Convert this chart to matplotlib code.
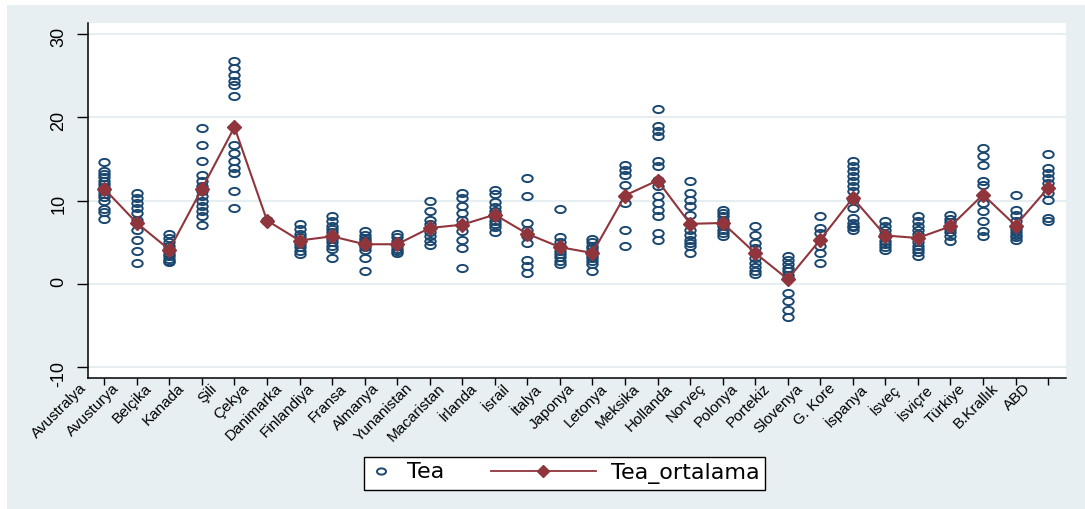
import matplotlib.pyplot as plt
from matplotlib.lines import Line2D
from matplotlib.legend_handler import HandlerLine2D
from matplotlib.markers import MarkerStyle
from matplotlib.patches import Rectangle
from matplotlib.path import Path
from matplotlib.transforms import Affine2D, ScaledTranslation

plt.rcParams['font.family'] = ['Liberation Sans', 'DejaVu Sans']
plt.rcParams['axes.unicode_minus'] = False

countries = ['Avustralya', 'Avusturya', 'Belçika', 'Kanada', 'Şili', 'Çekya',
             'Danimarka', 'Finlandiya', 'Fransa', 'Almanya', 'Yunanistan',
             'Macaristan', 'İrlanda', 'İsrail', 'İtalya', 'Japonya', 'Letonya',
             'Meksika', 'Hollanda', 'Norveç', 'Polonya', 'Portekiz', 'Slovenya',
             'G. Kore', 'İspanya', 'İsveç', 'İsviçre', 'Türkiye', 'B.Krallık', 'ABD']

# yearly Tea values per country
avustralya = [14.6, 13.6, 13.2, 12.8, 12.4, 12.0, 11.6, 11.2, 10.8, 10.4, 10.0, 9.0, 8.6, 7.8]
avusturya = [10.9, 10.3, 9.7, 9.1, 8.5, 7.7, 6.5, 5.3, 3.9, 2.5]
belcika = [6.0, 5.5, 5.0, 4.6, 4.2, 3.9, 3.6, 3.3, 3.0, 2.8, 2.6]
kanada = [18.7, 16.7, 14.7, 13.1, 12.3, 11.7, 11.1, 10.5, 9.9, 9.3, 8.7, 8.1, 7.1]
sili = [26.7, 25.9, 25.1, 24.3, 23.9, 22.5, 16.7, 15.7, 14.7, 13.9, 13.3, 11.1, 9.1]
cekya = [7.5, 7.7]
danimarka = [7.2, 6.6, 6.0, 5.6, 5.2, 4.8, 4.4, 4.0, 3.6]
finlandiya = [8.2, 7.6, 7.0, 6.6, 6.2, 5.8, 5.4, 5.0, 4.6, 4.2, 3.1]
fransa = [6.3, 5.9, 5.5, 5.3, 5.0, 4.7, 4.4, 4.1, 3.1, 1.5]
almanya = [6.0, 5.6, 5.2, 4.8, 4.5, 4.2, 3.9, 3.7]
yunanistan = [9.9, 8.8, 7.7, 7.2, 6.7, 6.2, 5.7, 5.2, 4.7]
macaristan = [10.9, 10.3, 9.3, 8.5, 7.7, 7.1, 6.3, 5.3, 4.3, 1.9]
irlanda = [11.3, 10.8, 9.8, 9.2, 8.8, 8.4, 8.0, 7.6, 7.2, 6.8, 6.2]
israil = [12.7, 10.5, 7.3, 6.5, 5.7, 4.9, 2.9, 2.1, 1.3]
italya = [9.0, 5.6, 5.0, 4.5, 4.0, 3.6, 3.2, 2.8, 2.4]
japonya = [5.4, 5.0, 4.6, 4.3, 4.0, 3.7, 3.4, 3.1, 2.8, 2.4, 1.6]
letonya = [14.3, 13.7, 13.1, 11.9, 9.7, 6.5, 4.5]
meksika = [21.0, 19.0, 18.3, 17.7, 14.7, 14.1, 12.5, 11.7, 10.5, 9.7, 8.9, 8.1, 6.1, 5.3]
hollanda = [12.3, 10.9, 10.1, 9.3, 8.3, 6.5, 5.9, 5.3, 4.9, 4.5, 3.7]
norvec = [8.9, 8.5, 8.1, 7.7, 7.3, 6.9, 6.5, 6.1, 5.7]
polonya = [6.9, 5.9, 4.9, 4.3, 3.7, 3.1, 2.5, 2.0, 1.6, 1.2]
portekiz = [3.4, 2.9, 2.4, 1.9, 1.5, 1.1, 0.7, -1.1, -2.1, -3.1, -4.0]
slovenya = [8.1, 6.7, 6.1, 5.3, 4.5, 3.7, 2.5]
g_kore = [14.7, 14.1, 13.5, 12.9, 12.3, 11.7, 11.1, 10.1, 9.1, 7.9, 7.3, 7.0, 6.8, 6.5]
ispanya = [7.5, 7.0, 6.5, 6.0, 5.6, 5.2, 4.8, 4.4, 4.1]
isvec = [8.1, 7.6, 7.0, 6.5, 6.0, 5.5, 5.0, 4.6, 4.2, 3.8, 3.4]
isvicre = [8.3, 7.8, 7.4, 7.0, 6.6, 6.2, 5.8, 5.1]
turkiye = [16.3, 15.3, 14.3, 12.3, 11.9, 10.7, 9.7, 8.7, 7.5, 6.3, 5.7]
b_krallik = [10.7, 8.9, 8.3, 7.6, 7.0, 6.6, 6.2, 5.9, 5.6, 5.3]
abd = [15.6, 13.9, 13.3, 12.7, 12.1, 11.5, 10.9, 10.1, 7.9, 7.5]

tea = [avustralya, avusturya, belcika, kanada, sili, cekya, danimarka,
       finlandiya, fransa, almanya, yunanistan, macaristan, irlanda, israil,
       italya, japonya, letonya, meksika, hollanda, norvec, polonya, portekiz,
       slovenya, g_kore, ispanya, isvec, isvicre, turkiye, b_krallik, abd]

tea_ortalama = [11.4, 7.3, 4.1, 11.4, 18.8, 7.6, 5.2, 5.7, 4.75, 4.75, 6.7,
                7.1, 8.3, 6.0, 4.4, 3.7, 10.6, 12.4, 7.2, 7.3, 3.7, 0.56, 5.3,
                10.3, 5.8, 5.5, 6.9, 10.7, 7.0, 11.5]

navy = '#1a476f'
maroon = '#90353b'
bg = '#e8eff2'
grid = '#e6eef1'

# wide hollow ring used for the yearly values
ring = MarkerStyle(Path.unit_circle().transformed(Affine2D().scale(1.45, 1.0)))

W, H = 1085, 509
fig = plt.figure(figsize=(W / 100, H / 100), dpi=100)
fig.patch.set_facecolor('white')
fig.add_artist(Rectangle((7 / W, 0), 1, (H - 5) / H, transform=fig.transFigure,
                         facecolor=bg, edgecolor='none', zorder=-10))

ax = fig.add_axes([88 / W, 1 - 378 / H, (1066 - 88) / W, (378 - 23) / H])
ax.set_facecolor('white')

# scatter of every yearly value, one column per country
for i, vals in enumerate(tea):
    ax.plot([i] * len(vals), vals, ls='none', marker=ring, ms=7.5,
            mfc='none', mec=navy, mew=1.4, zorder=3)

ax.plot(range(len(countries)), tea_ortalama, color=maroon, lw=1.5,
        marker='D', ms=7, mfc=maroon, mec=maroon, zorder=4)

ax.set_xlim(-0.5, 29.55)
ax.set_ylim(-11.3, 31.3)

ax.set_yticks([-10, 0, 10, 20, 30])
ax.yaxis.grid(True, color=grid, lw=1.5)
ax.set_axisbelow(True)
ax.tick_params(axis='y', labelrotation=90, length=8, width=1, pad=7,
               labelsize=13, color='black')

ax.set_xticks(range(len(countries)))
ax.set_xticklabels(countries, rotation=45, ha='right', fontsize=11)
ax.tick_params(axis='x', length=5, width=1, pad=1, color='black')
shift = ScaledTranslation(-0.15, 0.05, fig.dpi_scale_trans)
for lab in ax.get_xticklabels():
    lab.set_transform(lab.get_transform() + shift)

for side in ['top', 'right']:
    ax.spines[side].set_visible(False)
for side in ['left', 'bottom']:
    ax.spines[side].set_color('black')
    ax.spines[side].set_linewidth(1.1)


class HandlerWideLine(HandlerLine2D):
    """Line handle that reaches back to the left of its own slot."""

    def __init__(self, span, **kw):
        super().__init__(**kw)
        self.span = span

    def create_artists(self, legend, orig_handle, xdescent, ydescent,
                       width, height, fontsize, trans):
        y = (height - ydescent) / 2
        x1 = width - xdescent
        x0 = x1 - self.span
        line = Line2D([x0, x1], [y, y])
        self.update_prop(line, orig_handle, legend)
        line.set_marker('None')
        mark = Line2D([(x0 + x1) / 2], [y])
        self.update_prop(mark, orig_handle, legend)
        mark.set_linestyle('None')
        line.set_transform(trans)
        mark.set_transform(trans)
        return [line, mark]


tea_h = Line2D([], [], ls='none', marker=ring, ms=6.5, mfc='none', mec=navy, mew=1.4)
mean_h = Line2D([], [], color=maroon, lw=1.3, marker='D', ms=6,
                mfc=maroon, mec=maroon)
leg = fig.legend([tea_h, mean_h], ['Tea', 'Tea_ortalama'], ncol=2,
                 loc='center left', bbox_to_anchor=(364 / W, 1 - 473 / H),
                 borderaxespad=0, prop={'family': 'DejaVu Sans', 'size': 16},
                 frameon=True, fancybox=False, framealpha=1,
                 edgecolor='black', facecolor='white', handlelength=1.0,
                 handletextpad=0.65, columnspacing=5.85, borderpad=0.27,
                 handler_map={mean_h: HandlerWideLine(span=76)})
leg.get_frame().set_linewidth(1.0)

fig.savefig('out.png', dpi=100)
